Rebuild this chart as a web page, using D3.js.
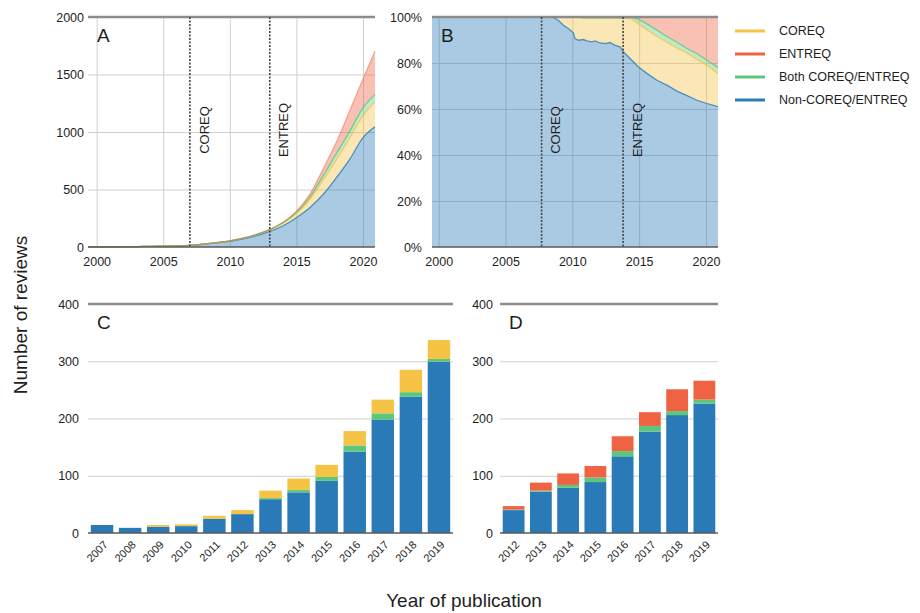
<!DOCTYPE html>
<html>
<head>
<meta charset="utf-8">
<script src="https://cdn.jsdelivr.net/npm/d3@7"></script>
<style>
  body { margin: 0; background: #fff; }
  svg text { font-family: "Liberation Sans", Arial, Helvetica, sans-serif; fill: #1e1e1e; }
</style>
</head>
<body>
<svg id="chart" width="920" height="613"></svg>
<script>
// ---------- series definitions ----------
const seriesKeys   = ["coreq", "entreq", "both", "non"];
const seriesLabels = ["COREQ", "ENTREQ", "Both COREQ/ENTREQ", "Non-COREQ/ENTREQ"];
const seriesColors = ["#f5c445", "#ef6343", "#5cc77c", "#2a7ab8"];

// ---------- panel A: cumulative number of reviews ----------
const cumYears  = [1999.35, 2000, 2001, 2002, 2003, 2004, 2005, 2006, 2007, 2008, 2009, 2010, 2011, 2012, 2013, 2014, 2015, 2016, 2017, 2018, 2019, 2020, 2020.9];
const cumNon    = [0, 1, 2, 3, 4, 6, 8, 11, 15, 24, 36, 50, 70, 98, 135, 185, 254, 341, 457, 603, 762, 951, 1045];
const cumCoreq  = [0, 0, 0, 0, 0, 0, 0, 0, 0, 0.5, 1.5, 4, 7, 11, 16, 26, 38, 72, 124, 155, 186, 189, 217];
const cumBoth   = [0, 0, 0, 0, 0, 0, 0, 0, 0, 0, 0, 0, 0, 0, 0, 1, 8, 18, 38, 55, 57, 70, 63];
const cumEntreq = [0, 0, 0, 0, 0, 0, 0, 0, 0, 0, 0, 0, 0, 0, 1, 3, 11, 27, 60, 100, 180, 250, 380];

// ---------- panel B: share of reviews (%) ----------
const shareYears  = [1999.5, 2008.5, 2008.95, 2009.33, 2009.7, 2010.08, 2010.2, 2010.45, 2010.83, 2011.08, 2011.45, 2011.7, 2012.08, 2012.45, 2012.83, 2013.2, 2013.58, 2013.83, 2014.08, 2014.45, 2014.95, 2015.58, 2016.33, 2017.08, 2017.83, 2018.58, 2019.33, 2020.0, 2020.9];
const shareNon    = [100, 100, 98.6, 96.4, 95, 93.1, 90.6, 89.9, 90.2, 89.6, 89.2, 89.6, 88.7, 88.4, 88.9, 87.7, 87, 84.8, 83.4, 81.2, 78.3, 75.5, 72.5, 70.4, 67.8, 65.8, 63.8, 62.5, 61];
const shareCoreq  = [0, 0, 1.4, 3.6, 5, 6.9, 9.4, 10.1, 9.4, 10, 10.4, 10, 10.9, 11.2, 10.7, 11.9, 12.6, 14.8, 16.2, 17.8, 18.7, 19, 19, 18.6, 18.7, 18.5, 17.9, 16.8, 14.5];
const shareBoth   = [0, 0, 0, 0, 0, 0, 0, 0, 0, 0, 0, 0, 0, 0, 0, 0, 0, 0, 0, 0.8, 2, 2.5, 2.8, 2.5, 2.5, 2, 2.3, 2.2, 2.5];
const shareEntreq = [0, 0, 0, 0, 0, 0, 0, 0, 0.4, 0.4, 0.4, 0.4, 0.4, 0.4, 0.4, 0.4, 0.4, 0.4, 0.4, 0.2, 1, 3, 5.7, 8.5, 11, 13.7, 16, 18.5, 22];

// ---------- panel C: reviews per year (COREQ period) ----------
const yearsC = ["2007", "2008", "2009", "2010", "2011", "2012", "2013", "2014", "2015", "2016", "2017", "2018", "2019"];
const cNon   = [14, 9, 11, 12, 25, 33, 59, 71, 91, 142, 198, 238, 299];
const cBoth  = [0, 0, 0, 0, 0, 0, 2, 4, 7, 11, 11, 8, 5];
const cCoreq = [0, 0, 3, 3, 5, 7, 13, 20, 21, 25, 24, 39, 33];

// ---------- panel D: reviews per year (ENTREQ period) ----------
const yearsD  = ["2012", "2013", "2014", "2015", "2016", "2017", "2018", "2019"];
const dNon    = [40, 72, 79, 89, 134, 177, 206, 226];
const dBoth   = [1, 2, 5, 8, 9, 10, 7, 7];
const dEntreq = [6, 14, 20, 20, 26, 24, 38, 33];

// ---------- guideline dates and ticks ----------
const guideLabels = ["COREQ", "ENTREQ"];
const guideYearsA = [2007.0, 2013.0];
const guideYearsB = [2007.7, 2013.8];
const yearTicks   = [2000, 2005, 2010, 2015, 2020];
const countTicksA = [0, 500, 1000, 1500, 2000];
const pctTicks    = [0, 20, 40, 60, 80, 100];
const barTicks    = [0, 100, 200, 300, 400];

// ---------- helpers ----------
const colorOf = Object.fromEntries(seriesKeys.map((k, i) => [k, seriesColors[i]]));
const svg = d3.select("#chart");
const GRID = "#cfcfcf", FRAME = "#8c8c8c", AXIS = "#5a5a5a";

function rows(xs, cols) {
  return xs.map((x, i) => {
    const r = { x };
    for (const k in cols) r[k] = cols[k][i];
    return r;
  });
}

function styleTicks(g, size) {
  g.select(".domain").remove();
  g.selectAll(".tick line").remove();
  g.selectAll("text").style("font-size", size + "px").attr("fill", "#1e1e1e");
}

function areaPanel(cfg) {
  const { x0, x1, y0, y1, xDomain, yDomain, yTicks, yFmt, data, curve, guides, letter, yPad } = cfg;
  const g = svg.append("g");
  const x = d3.scaleLinear().domain(xDomain).range([x0, x1]);
  const y = d3.scaleLinear().domain(yDomain).range([y1, y0]);

  // grid
  g.append("g").attr("transform", `translate(0,${y1})`)
    .call(d3.axisBottom(x).tickValues(yearTicks).tickSize(-(y1 - y0)).tickFormat(""))
    .call(a => { a.select(".domain").remove(); a.selectAll("line").attr("stroke", GRID).attr("stroke-width", 1); });
  g.append("g").attr("transform", `translate(${x0},0)`)
    .call(d3.axisLeft(y).tickValues(yTicks.slice(1, -1)).tickSize(-(x1 - x0)).tickFormat(""))
    .call(a => { a.select(".domain").remove(); a.selectAll("line").attr("stroke", GRID).attr("stroke-width", 1); });

  // stacked areas, bottom to top
  const order = ["non", "coreq", "both", "entreq"];
  const stacked = d3.stack().keys(order)(data);
  const area = d3.area().x(d => x(d.data.x)).y0(d => y(d[0])).y1(d => y(d[1])).curve(curve);
  const line = d3.line().x(d => x(d.data.x)).y(d => y(d[1])).curve(curve);
  g.selectAll(".band").data(stacked).join("path")
    .attr("d", area).attr("fill", d => colorOf[d.key]).attr("fill-opacity", 0.4);
  g.selectAll(".edge").data(stacked.filter(s => s.key !== "entreq")).join("path")
    .attr("d", line).attr("fill", "none").attr("stroke", d => colorOf[d.key])
    .attr("stroke-opacity", 0.8).attr("stroke-width", 1.3);
  const top = stacked[stacked.length - 1];
  g.append("path").datum(top).attr("d", line).attr("fill", "none")
    .attr("stroke", colorOf.entreq).attr("stroke-opacity", 0.5).attr("stroke-width", 1.2);

  // frame lines
  g.append("line").attr("x1", x0).attr("x2", x1).attr("y1", y(yDomain[1])).attr("y2", y(yDomain[1]))
    .attr("stroke", FRAME).attr("stroke-width", 2.5);
  g.append("line").attr("x1", x0).attr("x2", x1).attr("y1", y1).attr("y2", y1)
    .attr("stroke", AXIS).attr("stroke-width", 1.6);

  // guideline markers
  guides.forEach((gy, i) => {
    g.append("line").attr("x1", x(gy)).attr("x2", x(gy)).attr("y1", y0).attr("y2", y1)
      .attr("stroke", "#444").attr("stroke-width", 1.6).attr("stroke-dasharray", "2,1.5");
    g.append("text").attr("transform", `translate(${x(gy) + 14},${(y0 + y1) / 2 - 2}) rotate(-90)`)
      .attr("text-anchor", "middle").attr("dy", "0.36em").style("font-size", "13px")
      .text(guideLabels[i]);
  });

  // axes labels
  g.append("g").attr("transform", `translate(0,${y1})`)
    .call(d3.axisBottom(x).tickValues(yearTicks).tickFormat(d3.format("d")).tickSize(0).tickPadding(10))
    .call(a => styleTicks(a, 12.5));
  g.append("g").attr("transform", `translate(${x0},0)`)
    .call(d3.axisLeft(y).tickValues(yTicks).tickFormat(yFmt).tickSize(0).tickPadding(yPad))
    .call(a => styleTicks(a, 12.5));

  g.append("text").attr("x", x0 + 9).attr("y", y0 + 25).style("font-size", "19px").text(letter);
}

function barPanel(cfg) {
  const { x0, x1, y0, y1, cats, data, keys, letter, yPad, labelSize } = cfg;
  const g = svg.append("g");
  const x = d3.scaleBand().domain(cats).range([x0, x1]).paddingInner(0.2).paddingOuter(0.1);
  const y = d3.scaleLinear().domain([0, 400]).range([y1, y0]);

  g.append("g").attr("transform", `translate(${x0},0)`)
    .call(d3.axisLeft(y).tickValues([100, 200, 300]).tickSize(-(x1 - x0)).tickFormat(""))
    .call(a => { a.select(".domain").remove(); a.selectAll("line").attr("stroke", GRID).attr("stroke-width", 1.2); });
  g.append("line").attr("x1", x0).attr("x2", x1).attr("y1", y(400)).attr("y2", y(400))
    .attr("stroke", FRAME).attr("stroke-width", 2.5);

  const stacked = d3.stack().keys(keys)(data);
  g.selectAll(".layer").data(stacked).join("g").attr("fill", d => colorOf[d.key])
    .selectAll("rect").data(d => d).join("rect")
    .attr("x", d => x(d.data.x)).attr("width", x.bandwidth())
    .attr("y", d => y(d[1])).attr("height", d => Math.max(0, y(d[0]) - y(d[1])));

  g.append("line").attr("x1", x0).attr("x2", x1).attr("y1", y1).attr("y2", y1)
    .attr("stroke", AXIS).attr("stroke-width", 1.6);

  g.append("g").attr("transform", `translate(0,${y1})`)
    .call(d3.axisBottom(x).tickSize(0).tickPadding(0))
    .call(a => {
      styleTicks(a, labelSize);
      a.selectAll("text").attr("text-anchor", "end").attr("y", 0).attr("dy", "0.7em")
        .attr("transform", "translate(1,7) rotate(-45)");
    });
  g.append("g").attr("transform", `translate(${x0},0)`)
    .call(d3.axisLeft(y).tickValues(barTicks).tickSize(0).tickPadding(yPad))
    .call(a => styleTicks(a, 12.5));

  g.append("text").attr("x", x0 + 9).attr("y", y0 + 25).style("font-size", "19px").text(letter);
}

// ---------- panels ----------
areaPanel({
  x0: 88, x1: 375, y0: 17, y1: 247, xDomain: [1999.35, 2020.9], yDomain: [0, 2000],
  yTicks: countTicksA, yFmt: d3.format("d"), curve: d3.curveMonotoneX, yPad: 4,
  data: rows(cumYears, { non: cumNon, coreq: cumCoreq, both: cumBoth, entreq: cumEntreq }),
  guides: guideYearsA, letter: "A"
});

areaPanel({
  x0: 432, x1: 718, y0: 17, y1: 247, xDomain: [1999.5, 2020.9], yDomain: [0, 100],
  yTicks: pctTicks, yFmt: d => d + "%", curve: d3.curveLinear, yPad: 10,
  data: rows(shareYears, { non: shareNon, coreq: shareCoreq, both: shareBoth, entreq: shareEntreq }),
  guides: guideYearsB, letter: "B"
});

barPanel({
  x0: 88, x1: 453, y0: 304, y1: 533, cats: yearsC, keys: ["non", "both", "coreq"],
  data: rows(yearsC, { non: cNon, both: cBoth, coreq: cCoreq }), letter: "C", yPad: 9, labelSize: 11
});

barPanel({
  x0: 500, x1: 718, y0: 304, y1: 533, cats: yearsD, keys: ["non", "both", "entreq"],
  data: rows(yearsD, { non: dNon, both: dBoth, entreq: dEntreq }), letter: "D", yPad: 7, labelSize: 11
});

// ---------- legend ----------
const legend = svg.append("g").attr("transform", "translate(735,31)");
const item = legend.selectAll("g").data(seriesKeys).join("g")
  .attr("transform", (d, i) => `translate(0,${i * 23})`);
item.append("line").attr("x1", 0).attr("x2", 30).attr("stroke", (d, i) => seriesColors[i]).attr("stroke-width", 3);
item.append("text").attr("x", 44).attr("dy", "0.35em").style("font-size", "12.5px")
  .text((d, i) => seriesLabels[i]);

// ---------- shared axis titles ----------
svg.append("text").attr("transform", "translate(20,315) rotate(-90)")
  .attr("text-anchor", "middle").attr("dy", "0.36em").style("font-size", "19px").attr("fill", "#111")
  .text("Number of reviews");
svg.append("text").attr("x", 464).attr("y", 600)
  .attr("text-anchor", "middle").attr("dy", "0.36em").style("font-size", "19px").attr("fill", "#111")
  .text("Year of publication");
</script>
</body>
</html>
